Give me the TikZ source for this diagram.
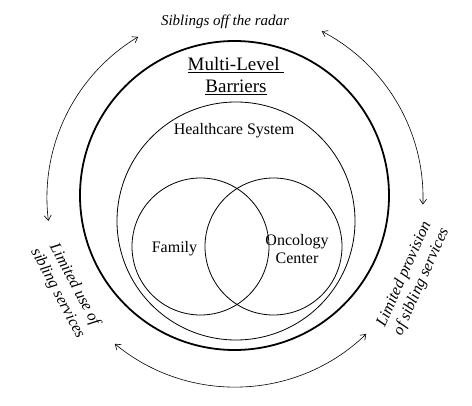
\documentclass[tikz,border=0pt]{standalone}
\usepackage{fontspec}
\setmainfont{Liberation Serif}
\usetikzlibrary{arrows.meta}
\begin{document}
\begin{tikzpicture}[x=1pt,y=-1pt,
  ring/.style={draw, circle, inner sep=0pt, line width=0.8pt},
  arr/.style={{Straight Barb[length=5pt,width=7pt]}-{Straight Barb[length=5pt,width=7pt]}, line width=0.6pt},
  lbl/.style={font=\fontsize{16}{18}\selectfont, align=center, inner sep=0pt},
  side/.style={font=\itshape\fontsize{16}{19}\selectfont, align=center, inner sep=0pt}]
\useasboundingbox (0,0) rectangle (472,406);
\node[ring, line width=1.8pt, minimum size=309pt] (outer) at (234.5,195.5) {};
\node[ring, minimum size=238pt] (hc) at (236,221) {};
\node[ring, minimum size=137pt] (fam) at (200.5,246.5) {};
\node[ring, minimum size=137pt] (onc) at (273.5,246.5) {};
\node[font=\fontsize{19}{22}\selectfont, align=center, inner sep=0pt] (mlb) at (236,76) {\underline{Multi-Level\ }\\\underline{Barriers}};
\node[lbl] (hct) at (234,130.5) {Healthcare System};
\node[lbl] (famt) at (174.5,249) {Family};
\node[lbl] (onct) at (297,249) {Oncology\\Center};
\node[font=\itshape\fontsize{15}{18}\selectfont, inner sep=0pt] (top) at (225,22) {Siblings off the radar};
\node[side, rotate=-62] (left) at (66,289) {Limited use of\\sibling services};
\node[side, rotate=66] (right) at (413,278) {Limited provision\\of sibling services};
\coordinate (c) at (235,198);
\draw[arr] ([shift={(173:188)}]c) arc[start angle=173, end angle=239, radius=188];
\draw[arr] ([shift={(-62.5:188)}]c) arc[start angle=-62.5, end angle=2, radius=188];
\draw[arr] ([shift={(46:189)}]c) arc[start angle=46, end angle=129.5, radius=189];
\end{tikzpicture}
\end{document}
